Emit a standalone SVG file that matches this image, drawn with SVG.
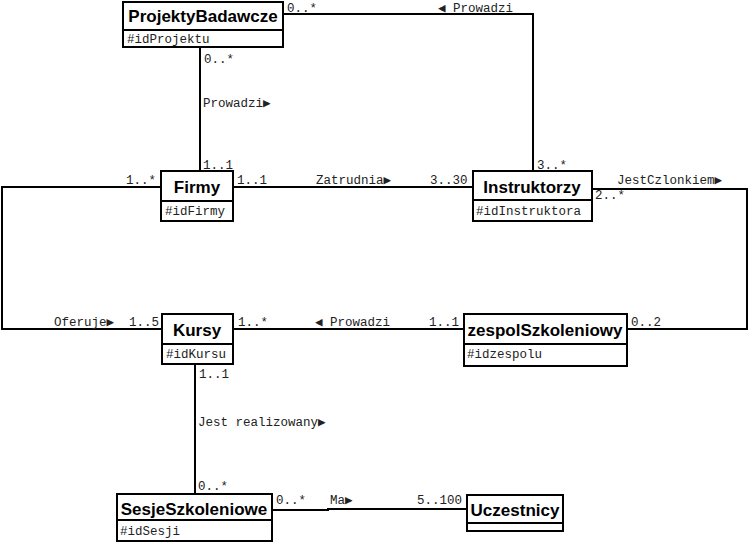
<svg xmlns="http://www.w3.org/2000/svg" width="748" height="544" viewBox="0 0 748 544">
<style>
.box{fill:#fff;stroke:#000;stroke-width:2}
.div{stroke:#000;stroke-width:2}
.t{font-family:"Liberation Sans",Arial,sans-serif;font-weight:bold;font-size:17px;fill:#000;text-anchor:middle}
.a{font-family:"Liberation Mono","DejaVu Sans Mono",monospace;font-size:12.5px;fill:#222}
.l{font-family:"Liberation Mono","DejaVu Sans Mono",monospace;font-size:12.5px;fill:#222}
.c{fill:none;stroke:#000;stroke-width:2}
</style>
<rect width="748" height="544" fill="#fff"/>
<g id="connectors">
<polyline class="c" points="283,14 533,14 533,171"/>
<polyline class="c" points="200,47 200,171"/>
<polyline class="c" points="161,187 2,187 2,329 162,329"/>
<polyline class="c" points="233,187 473,187"/>
<polyline class="c" points="592,189 747,189 747,329 627,329"/>
<polyline class="c" points="233,329 464,329"/>
<polyline class="c" points="195,365 195,494"/>
<polyline class="c" points="272,510 328,510 328,509 467,509"/>
<text class="l" x="287" y="12">0..*</text>
<text class="l" x="438" y="12">◀ Prowadzi</text>
<text class="l" x="204" y="63">0..*</text>
<text class="l" x="203" y="107">Prowadzi▶</text>
<text class="l" x="203" y="169">1..1</text>
<text class="l" x="126" y="184">1..*</text>
<text class="l" x="237" y="184">1..1</text>
<text class="l" x="316" y="184">Zatrudnia▶</text>
<text class="l" x="430" y="184">3..30</text>
<text class="l" x="537" y="169">3..*</text>
<text class="l" x="617" y="184">JestCzlonkiem▶</text>
<text class="l" x="595" y="199">2..*</text>
<text class="l" x="54" y="326">Oferuje▶</text>
<text class="l" x="129" y="326">1..5</text>
<text class="l" x="238" y="326">1..*</text>
<text class="l" x="315" y="326">◀ Prowadzi</text>
<text class="l" x="429" y="326">1..1</text>
<text class="l" x="631" y="326">0..2</text>
<text class="l" x="199" y="378">1..1</text>
<text class="l" x="198" y="426">Jest realizowany▶</text>
<text class="l" x="198" y="490">0..*</text>
<text class="l" x="276" y="504">0..*</text>
<text class="l" x="330" y="504">Ma▶</text>
<text class="l" x="417" y="504">5..100</text>
</g>
<g id="ProjektyBadawcze">
<rect class="box" x="123" y="2" width="160" height="45"/>
<line class="div" x1="123" y1="30" x2="283" y2="30"/>
<text class="t" x="203" y="22">ProjektyBadawcze</text>
<text class="a" x="127" y="43">#idProjektu</text>
</g>
<g id="Firmy">
<rect class="box" x="161" y="171" width="72" height="50"/>
<line class="div" x1="161" y1="201" x2="233" y2="201"/>
<text class="t" x="197" y="193">Firmy</text>
<text class="a" x="165" y="215">#idFirmy</text>
</g>
<g id="Instruktorzy">
<rect class="box" x="473" y="171" width="119" height="50"/>
<line class="div" x1="473" y1="200" x2="592" y2="200"/>
<text class="t" x="532" y="193">Instruktorzy</text>
<text class="a" x="476" y="215">#idInstruktora</text>
</g>
<g id="Kursy">
<rect class="box" x="162" y="314" width="71" height="50"/>
<line class="div" x1="162" y1="344" x2="233" y2="344"/>
<text class="t" x="197" y="336">Kursy</text>
<text class="a" x="166" y="358">#idKursu</text>
</g>
<g id="zespolSzkoleniowy">
<rect class="box" x="464" y="314" width="163" height="52"/>
<line class="div" x1="464" y1="344" x2="627" y2="344"/>
<text class="t" x="545" y="336">zespolSzkoleniowy</text>
<text class="a" x="467" y="358">#idzespolu</text>
</g>
<g id="SesjeSzkoleniowe">
<rect class="box" x="117" y="494" width="155" height="47"/>
<line class="div" x1="117" y1="520" x2="272" y2="520"/>
<text class="t" x="194" y="515">SesjeSzkoleniowe</text>
<text class="a" x="120" y="535">#idSesji</text>
</g>
<g id="Uczestnicy">
<rect class="box" x="467" y="495" width="96" height="36"/>
<line class="div" x1="467" y1="523" x2="563" y2="523"/>
<text class="t" x="515" y="516">Uczestnicy</text>
</g>
</svg>
